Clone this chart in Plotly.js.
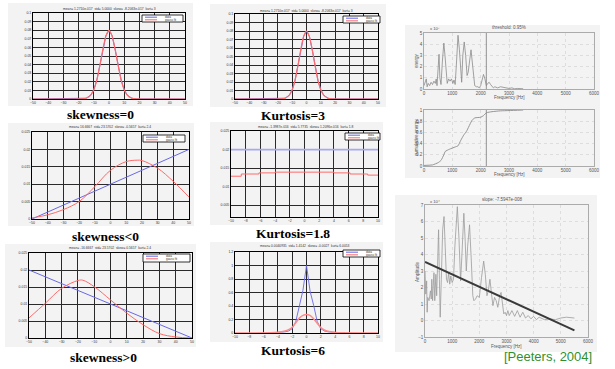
<!DOCTYPE html>
<html><head><meta charset="utf-8">
<script src="https://cdn.plot.ly/plotly-3.0.1.min.js"></script>
<style>html,body{margin:0;padding:0;background:#fff}#chart{width:615px;height:369px}</style>
</head><body><div id="chart"></div>
<script>
// ---------- data ----------
// Gaussian (skewness=0 / Kurtosis=3)
const gaussX    = [-50,-18,-15,-12,-10,-8,-6,-4,-2,0,2,4,6,8,10,12,15,18,50];
const gaussData = [0,0.0001,0.0009,0.0045,0.0108,0.022,0.039,0.058,0.0737,0.0798,0.0737,0.058,0.039,0.022,0.0108,0.0045,0.0009,0.0001,0];
const gaussFit  = [0,0.0001,0.0009,0.0045,0.0108,0.022,0.039,0.058,0.0737,0.0798,0.0737,0.058,0.039,0.022,0.0108,0.0045,0.0009,0.0001,0];
// skewness<0
const negDataX = [-50,50];
const negDataY = [0,0.02];
const negFitX  = [-50,-40,-30,-20,-10,0,10,17,20,30,40,50];
const negFitY  = [0.0003,0.0012,0.0027,0.005,0.0093,0.014,0.0165,0.0169,0.0168,0.0146,0.0108,0.0063];
// skewness>0
const posDataX = [-50,50];
const posDataY = [0.02,0];
const posFitX  = [-50,-40,-30,-20,-17,-10,0,10,20,30,40,50];
const posFitY  = [0.0059,0.0102,0.0146,0.0169,0.017,0.0151,0.0112,0.0073,0.0039,0.0013,0.0003,0];
// Kurtosis=1.8 (uniform)
const uniDataX = [-10,10];
const uniDataY = [0.02,0.02];
const uniFitX  = [-10,-8.6,-6.2,-4,4,6.2,8.6,10];
const uniFitY  = [0.0128,0.0134,0.0137,0.0139,0.0137,0.0134,0.0131,0.0131];
// Kurtosis=6 (laplace)
const lapDataX = [-5.2,-4,-3,-2.5,-2,-1.5,-1,-0.5,0,0.5,1,1.5,2,2.5,3,4,5.2];
const lapDataY = [0,0.006,0.018,0.03,0.065,0.17,0.42,0.63,1.0,0.62,0.41,0.17,0.065,0.03,0.018,0.006,0];
const lapFitX  = [-10,-5,-4,-3,-2.5,-2,-1.5,-1,-0.5,0,0.5,1,1.5,2,2.5,3,4,5,10];
const lapFitY  = [0,0.002,0.01,0.03,0.05,0.085,0.15,0.22,0.26,0.275,0.26,0.21,0.145,0.08,0.045,0.025,0.008,0.002,0];
// Spectrum (energy)
const specHz = [0,40,80,110,150,200,250,300,350,400,430,460,500,530,560,600,650,700,740,780,820,870,920,970,1020,1060,1100,1150,1200,1250,1300,1330,1370,1420,1470,1520,1560,1620,1660,1700,1750,1790,1850,1900,1950,2000,2050,2100,2150,2200,2250,2300,2350,2400,2450,2500,2600,2700,2800,2900,3000,3100,3200,3300,3500];
const specE  = [0.3,0.6,0.9,0.2,0.5,0.3,0.6,0.4,0.7,0.5,0.9,0.3,1.5,3.1,1.0,0.4,2.5,4.1,3.0,1.2,0.5,0.9,0.7,0.9,0.5,0.8,0.4,2.5,4.8,3.5,0.9,0.6,3.0,4.2,3.0,1.2,1.5,3.0,3.5,2.5,0.8,0.3,0.2,0.2,0.1,0.3,0.8,1.3,0.9,0.3,0.5,0.6,0.4,0.2,0.1,0.2,0.1,0.2,0.15,0.05,0.05,0.1,0.02,0.05,0.02];
// Cumulative energy
const cumHz = [0,300,500,600,700,750,900,1100,1200,1300,1400,1500,1700,1800,2000,2100,2200,2400,2700,3000,3500];
const cumE  = [0.01,0.02,0.06,0.1,0.2,0.26,0.3,0.34,0.36,0.46,0.55,0.62,0.82,0.86,0.87,0.9,0.95,0.97,0.985,0.99,1.0];
const rolloffHz = 2200;
// Amplitude spectrum + regression
const ampHz = [0,30,60,80,100,150,200,230,250,280,300,330,360,400,430,470,500,530,560,600,650,700,750,790,830,870,910,950,1000,1050,1100,1190,1250,1310,1360,1430,1480,1520,1570,1640,1700,1760,1800,1860,1920,2000,2080,2160,2220,2280,2330,2390,2450,2500,2560,2620,2680,2750,2800,2850,2900,2950,3000,3050,3100,3200,3300,3400,3500,3600,3700,3800,3900,4000,4100,4200,4400,4600,4800,5000,5200,5500];
const ampV  = [3.0,1.6,2.4,0.5,1.4,1.2,1.8,1.3,2.5,1.2,2.0,2.9,1.2,2.8,1.5,3.5,5.5,2.5,0.2,2.5,5.5,6.3,4.5,2.5,2.3,2.9,2.2,2.7,2.3,2.5,4.5,6.9,5.0,2.4,4.0,6.5,4.8,3.0,4.5,5.8,3.8,1.5,1.2,1.3,1.5,1.4,2.6,3.6,2.8,1.5,1.8,2.5,1.6,0.9,1.4,1.2,0.8,1.5,1.7,1.0,0.4,0.5,0.3,0.6,0.3,0.6,0.25,0.6,0.2,0.5,0.15,0.3,0.1,0.25,0.05,0.2,0.05,0.1,0.05,0.15,0.2,0.15];
const regHz = [0,5500];
const regV  = [3.55,-0.6];

// ---------- layout helpers ----------
const W=615,H=369;
const px=x=>x/W, py=y=>1-y/H;
const BLUE='#6868e6', RED='#ff6a6a';

const traces=[];
function tr(ax,x,y,color,width,extra){traces.push(Object.assign({type:'scatter',mode:'lines',x:x,y:y,xaxis:'x'+(ax===1?'':ax),yaxis:'y'+(ax===1?'':ax),line:{color:color,width:width},hoverinfo:'skip',showlegend:false},extra||{}));}

tr(1,gaussX,gaussData,BLUE,1); tr(1,gaussX,gaussFit,RED,1.2,{line:{color:RED,width:1.2,shape:'spline',smoothing:0.6}});
tr(2,negDataX,negDataY,BLUE,1); tr(2,negFitX,negFitY,RED,1,{line:{color:RED,width:1,shape:'spline'}});
tr(3,posDataX,posDataY,BLUE,1); tr(3,posFitX,posFitY,RED,1,{line:{color:RED,width:1,shape:'spline'}});
tr(4,gaussX,gaussData,BLUE,1); tr(4,gaussX,gaussFit,RED,1.2,{line:{color:RED,width:1.2,shape:'spline',smoothing:0.6}});
tr(5,uniDataX,uniDataY,'#a8a8f0',1.8); tr(5,uniFitX,uniFitY,RED,1,{line:{color:RED,width:1,shape:'hv'}});
tr(6,lapDataX,lapDataY,BLUE,0.9); tr(6,lapFitX,lapFitY,'#ff8a8a',1.5,{line:{color:'#ff8a8a',width:1.5,shape:'spline',smoothing:0.6}});
tr(7,specHz,specE,'#8a8a8a',0.8);
tr(7,[rolloffHz,rolloffHz],[0,5],'#888',0.9);
tr(8,cumHz,cumE,'#8a8a8a',0.9,{line:{color:'#8a8a8a',width:0.9,shape:'spline',smoothing:0.5}});
tr(8,[rolloffHz,rolloffHz],[0,1],'#888',0.9);
tr(9,ampHz,ampV,'#9a9a9a',0.8);
tr(9,regHz,regV,'#3a3a3a',2);

const panels=[
 {x0:33,x1:185,y0:13,y1:99,xr:[-50,50],dx:10,yr:[0,0.1],dy:0.01,old:true},
 {x0:32,x1:189,y0:132,y1:219,xr:[-50,50],dx:10,yr:[0,0.025],dy:0.005,old:true},
 {x0:29,x1:192,y0:253,y1:338,xr:[-50,50],dx:10,yr:[0,0.025],dy:0.005,old:true},
 {x0:235,x1:378,y0:14,y1:99,xr:[-50,50],dx:10,yr:[0,0.1],dy:0.01,old:true},
 {x0:231,x1:378,y0:131,y1:217,xr:[-10,10],dx:2,yr:[0.0018,0.025],dy:0.005,old:true,t0:0.005},
 {x0:235,x1:378,y0:252,y1:333,xr:[-10,10],dx:2,yr:[0,1.2],dy:0.2,old:true},
 {x0:424,x1:594,y0:33,y1:89,xr:[0,6000],dx:1000,yr:[0,5],dy:1},
 {x0:424,x1:594,y0:110,y1:166,xr:[0,6000],dx:1000,yr:[0,1],dy:0.2},
 {x0:425,x1:588,y0:205,y1:337,xr:[0,6000],dx:1000,yr:[-1,7],dy:1}
];
const layout={width:W,height:H,margin:{l:0,r:0,t:0,b:0},paper_bgcolor:'#fff',plot_bgcolor:'#fff',showlegend:false,shapes:[],annotations:[],font:{family:'Liberation Sans'}};

// figure backgrounds
[[8,3,193,106],[8,123,194,226],[5,244,196,347],[210,4,386,107],[210,122,383,225],[210,242,383,342],[405,25,600,178],[395,195,597,352]].forEach(b=>{
 layout.shapes.push({type:'rect',xref:'paper',yref:'paper',x0:px(b[0]),x1:px(b[2]),y0:py(b[3]),y1:py(b[1]),fillcolor:'#f3f3f3',line:{width:0},layer:'below'});
});

panels.forEach((p,i)=>{
 const n=i+1, s=n===1?'':n;
 const common={showline:true,mirror:true,zeroline:false,ticks:'',showgrid:true,fixedrange:true};
 const style=p.old?{linecolor:'#000',linewidth:1,gridcolor:'#2a2a2a',gridwidth:1,tickfont:{size:3.5,color:'#333'}}
                  :{linecolor:'#999',linewidth:0.8,gridcolor:'#cfcfcf',gridwidth:0.6,griddash:'dot',tickfont:{size:4.5,color:'#555'}};
 layout['xaxis'+s]=Object.assign({},common,style,{domain:[px(p.x0),px(p.x1)],range:p.xr,dtick:p.dx,tick0:p.xr[0],anchor:'y'+s,ticklen:0});
 layout['yaxis'+s]=Object.assign({},common,style,{domain:[py(p.y1),py(p.y0)],range:p.yr,dtick:p.dy,tick0:p.t0!==undefined?p.t0:p.yr[0],anchor:'x'+s});
});

function ann(text,x,y,size,opt){layout.annotations.push(Object.assign({text:text,xref:'paper',yref:'paper',x:px(x),y:py(y),showarrow:false,font:{size:size,color:'#000',family:'Liberation Sans'},xanchor:'center',yanchor:'middle'},opt||{}));}

// captions
const capFont={family:'Liberation Serif',size:13.5,color:'#000'};
[['skewness=0',100,114],['skewness<0',105,236],['skewness>0',103,357],['Kurtosis=3',293,116],['Kurtosis=1.8',293,233],['Kurtosis=6',293,350]].forEach(c=>{
 ann('<b>'+c[0]+'</b>',c[1],c[2],13.5,{font:capFont});
});
// tiny titles
[['mean= 1.2710e-017  std= 5.0000  skew= -8.2063e-017  kurt= 3',109,9],
 ['mean= 16.6667  std= 23.5702  skew= -0.5657  kurt= 2.4',110,127],
 ['mean= -16.6667  std= 23.5702  skew= 0.5657  kurt= 2.4',110,248],
 ['mean= 1.2710e-017  std= 5.0000  skew= -8.2063e-017  kurt= 3',306,11],
 ['mean= -1.3987e-016  std= 5.7735  skew= 1.2096e-016  kurt= 1.8',305,127],
 ['mean= 0.0040935  std= 1.4142  skew= -0.0027  kurt= 6.0053',305,246]].forEach(t=>ann(t[0],t[1],t[2],3.3,{font:{size:3.3,color:'#333'}}));
// legend boxes
[[142,15,183,22],[143,135,185,142],[143,254,190,262],[343,16,380,23],[345,133,380,140],[343,250,380,257]].forEach(b=>{
 layout.shapes.push({type:'rect',xref:'paper',yref:'paper',x0:px(b[0]),x1:px(b[2]),y0:py(b[3]),y1:py(b[1]),fillcolor:'#fff',line:{color:'#000',width:0.8}});
 const ya=b[1]+2.2, yb=b[1]+4.8, lx0=b[0]+3, lx1=b[0]+15;
 layout.shapes.push({type:'line',xref:'paper',yref:'paper',x0:px(lx0),x1:px(lx1),y0:py(ya),y1:py(ya),line:{color:BLUE,width:1}});
 layout.shapes.push({type:'line',xref:'paper',yref:'paper',x0:px(lx0),x1:px(lx1),y0:py(yb),y1:py(yb),line:{color:RED,width:1}});
 ann('data',b[0]+21,ya,3,{xanchor:'left',font:{size:3,color:'#333'}});
 ann('gauss fit',b[0]+21,yb,3,{xanchor:'left',font:{size:3,color:'#333'}});
});
// right panel labels
const g={size:4.5,color:'#555'};
ann('threshold: 0.95%',509,28,4.5,{font:g});
ann('Frequency [Hz]',509,97,4.5,{font:g});
ann('energy',416,61,4.5,{font:g,textangle:-90});
ann('x 10⁷',428,29,4.2,{font:{size:4.2,color:'#555'},xanchor:'left'});
ann('Frequency [Hz]',509,174,4.5,{font:g});
ann('cumulative energy',416,138,4.5,{font:g,textangle:-90});
ann('slope: -7.5947e-008',502,200,4.5,{font:g});
ann('Frequency [Hz]',506,346,4.5,{font:g});
ann('Amplitude',417,272,4.5,{font:g,textangle:-90});
ann('x 10⁴',428,201,4.2,{font:{size:4.2,color:'#555'},xanchor:'left'});
ann('[Peeters, 2004]',548,356,13,{font:{family:'Liberation Sans',size:13,color:'#2f8f2f'}});

Plotly.newPlot('chart',traces,layout,{staticPlot:true,displayModeBar:false});
</script></body></html>
